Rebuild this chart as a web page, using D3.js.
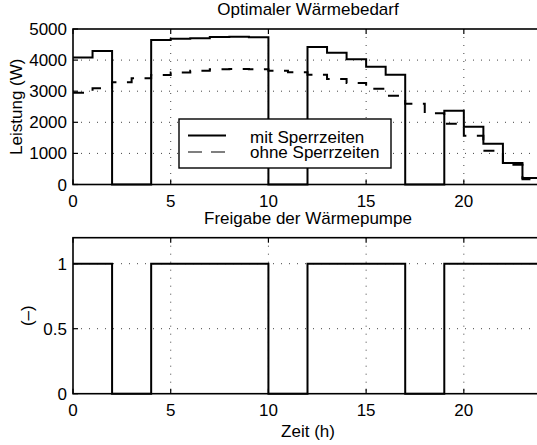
<!DOCTYPE html>
<html>
<head>
<meta charset="utf-8">
<script src="https://cdn.jsdelivr.net/npm/d3@7"></script>
<style>
  html, body { margin: 0; padding: 0; background: #fff; }
  svg { display: block; font-family: "Liberation Sans", Arial, Helvetica, sans-serif; }
</style>
</head>
<body>
<svg id="chart" width="537" height="445"></svg>
<script>
// Hourly time steps (start of each hour) and the end of the horizon
const hourStarts = [0, 1, 2, 3, 4, 5, 6, 7, 8, 9, 10, 11, 12, 13, 14, 15, 16, 17, 18, 19, 20, 21, 22, 23];
const hourEnd = 24;

// Optimal heat demand in W, with and without blocking periods
const leistungMit = [4080, 4290, 0, 0, 4650, 4685, 4705, 4745, 4750, 4735, 0, 0,
                     4425, 4240, 4025, 3790, 3530, 0, 0, 2370, 1860, 1310, 690, 210];
const leistungOhne = [2950, 3095, 3290, 3415, 3520, 3600, 3660, 3705, 3715, 3705, 3660, 3607,
                      3530, 3392, 3265, 3075, 2855, 2595, 2292, 1950, 1565, 1085, 635, 170];

// Heat pump release signal (1 = released, 0 = blocked)
const freigabe = [1, 1, 0, 0, 1, 1, 1, 1, 1, 1, 0, 0, 1, 1, 1, 1, 1, 0, 0, 1, 1, 1, 1, 1];

// Axis ticks and texts
const xTicks = [0, 5, 10, 15, 20];
const yTicksTop = [0, 1000, 2000, 3000, 4000, 5000];
const yTicksBottom = [0, 0.5, 1];
const seriesNames = ["mit Sperrzeiten", "ohne Sperrzeiten"];
const titleTop = "Optimaler Wärmebedarf";
const titleBottom = "Freigabe der Wärmepumpe";
const yLabelTop = "Leistung (W)";
const yLabelBottom = "(–)";
const xLabel = "Zeit (h)";

const svg = d3.select("#chart");
const FONT = 17;
const plotLeft = 73, plotRight = 542;

const x = d3.scaleLinear().domain([0, 24]).range([plotLeft, plotRight]);

function stepPoints(values) {
  const pts = hourStarts.map((h, i) => [h, values[i]]);
  pts.push([hourEnd, values[values.length - 1]]);
  return pts;
}

function panel(cfg) {
  const { y0, y1, yDomain, yTicks } = cfg;
  const y = d3.scaleLinear().domain(yDomain).range([y1, y0]);
  const g = svg.append("g");

  // dotted grid
  const grid = g.append("g").attr("stroke", "#444").attr("stroke-width", 1)
    .attr("stroke-dasharray", "1,7").attr("fill", "none");
  xTicks.filter(t => t > 0).forEach(t => {
    grid.append("line").attr("x1", x(t)).attr("x2", x(t)).attr("y1", y0).attr("y2", y1);
  });
  yTicks.filter(t => t > yDomain[0] && t < yDomain[1]).forEach(t => {
    grid.append("line").attr("x1", plotLeft).attr("x2", plotRight).attr("y1", y(t)).attr("y2", y(t));
  });

  const layer = g.append("g");

  // axes box with inward ticks on all sides
  const axes = g.append("g");
  axes.append("rect").attr("x", plotLeft).attr("y", y0)
    .attr("width", plotRight - plotLeft).attr("height", y1 - y0)
    .attr("fill", "none").attr("stroke", "#000").attr("stroke-width", 1.6);
  const tl = 5;
  xTicks.forEach(t => {
    axes.append("line").attr("x1", x(t)).attr("x2", x(t)).attr("y1", y1).attr("y2", y1 - tl)
      .attr("stroke", "#000").attr("stroke-width", 1.2);
    axes.append("line").attr("x1", x(t)).attr("x2", x(t)).attr("y1", y0).attr("y2", y0 + tl)
      .attr("stroke", "#000").attr("stroke-width", 1.2);
    axes.append("text").attr("x", x(t)).attr("y", y1 + 22).attr("text-anchor", "middle")
      .attr("font-size", FONT).text(t);
  });
  yTicks.forEach(t => {
    axes.append("line").attr("x1", plotLeft).attr("x2", plotLeft + tl).attr("y1", y(t)).attr("y2", y(t))
      .attr("stroke", "#000").attr("stroke-width", 1.2);
    axes.append("line").attr("x1", plotRight).attr("x2", plotRight - tl).attr("y1", y(t)).attr("y2", y(t))
      .attr("stroke", "#000").attr("stroke-width", 1.2);
    axes.append("text").attr("x", plotLeft - 6).attr("y", y(t) + 6).attr("text-anchor", "end")
      .attr("font-size", FONT).text(t);
  });

  return { y, layer };
}

// ---------- upper panel: heat demand ----------
const demandPanel = panel({ y0: 29, y1: 184.5, yDomain: [0, 5000], yTicks: yTicksTop });
const demandLine = d3.line().x(d => x(d[0])).y(d => demandPanel.y(d[1])).curve(d3.curveStepAfter);

demandPanel.layer.append("path").datum(stepPoints(leistungOhne)).attr("d", demandLine)
  .attr("fill", "none").attr("stroke", "#000").attr("stroke-width", 2)
  .attr("stroke-dasharray", "11,10.5");
demandPanel.layer.append("path").datum(stepPoints(leistungMit)).attr("d", demandLine)
  .attr("fill", "none").attr("stroke", "#000").attr("stroke-width", 2);

svg.append("text").attr("x", (plotLeft + plotRight) / 2 + 0.5).attr("y", 15).attr("text-anchor", "middle")
  .attr("font-size", FONT).text(titleTop);
svg.append("text").attr("transform", "translate(22,106.7) rotate(-90)").attr("text-anchor", "middle")
  .attr("font-size", FONT).text(yLabelTop);

// legend
const lg = svg.append("g");
lg.append("rect").attr("x", 179).attr("y", 119).attr("width", 212).attr("height", 49)
  .attr("fill", "#fff").attr("stroke", "#000").attr("stroke-width", 1.4);
lg.append("line").attr("x1", 188).attr("x2", 226).attr("y1", 135.5).attr("y2", 135.5)
  .attr("stroke", "#000").attr("stroke-width", 2);
lg.append("line").attr("x1", 188).attr("x2", 226).attr("y1", 152).attr("y2", 152)
  .attr("stroke", "#555").attr("stroke-width", 1.6).attr("stroke-dasharray", "14,9");
lg.append("text").attr("x", 250).attr("y", 142.5).attr("font-size", FONT).text(seriesNames[0]);
lg.append("text").attr("x", 250).attr("y", 157.5).attr("font-size", FONT).text(seriesNames[1]);

// ---------- lower panel: release signal ----------
const releasePanel = panel({ y0: 237.7, y1: 393.7, yDomain: [0, 1.2], yTicks: yTicksBottom });
const releaseLine = d3.line().x(d => x(d[0])).y(d => releasePanel.y(d[1])).curve(d3.curveStepAfter);
releasePanel.layer.append("path").datum(stepPoints(freigabe)).attr("d", releaseLine)
  .attr("fill", "none").attr("stroke", "#000").attr("stroke-width", 2);

svg.append("text").attr("x", (plotLeft + plotRight) / 2 + 0.5).attr("y", 223.5).attr("text-anchor", "middle")
  .attr("font-size", FONT).text(titleBottom);
svg.append("text").attr("transform", "translate(33,315.7) rotate(-90)").attr("text-anchor", "middle")
  .attr("font-size", FONT).text(yLabelBottom);
svg.append("text").attr("x", (plotLeft + plotRight) / 2 + 0.5).attr("y", 437).attr("text-anchor", "middle")
  .attr("font-size", FONT).text(xLabel);
</script>
</body>
</html>
